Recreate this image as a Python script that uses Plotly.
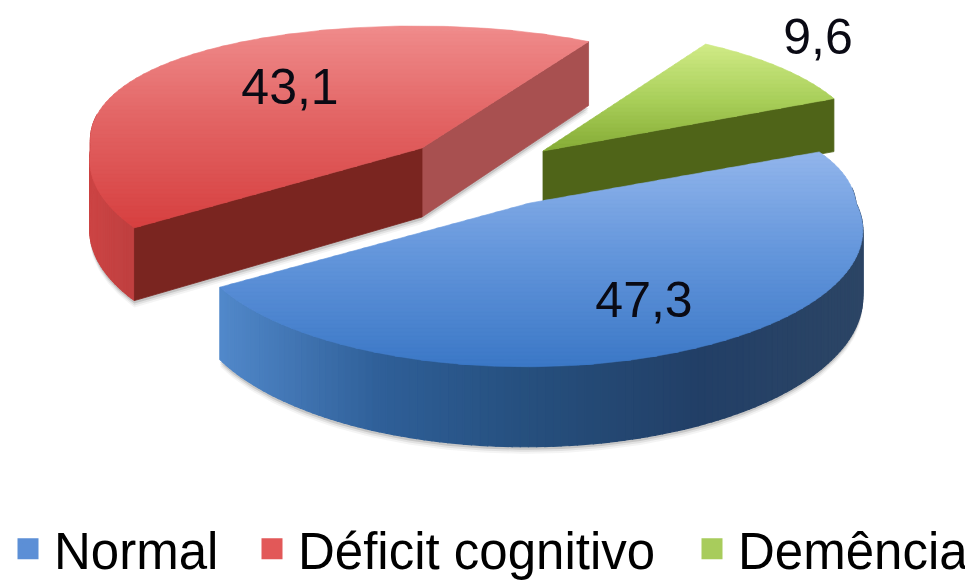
import math
import plotly.graph_objects as go

# ---- data ----
categories = ["Normal", "Déficit cognitivo", "Demência"]
values = [47.3, 43.1, 9.6]

# ---- appearance of each 3-D slice (geometry params, not data) ----
START_DEG = 25.0
PAGE_INSET = 8  # the page body has an 8px margin
GEOM = [
    dict(cx=526, cy=203, A=330, B=131, k=0.20, s=0.15, d=64, apex=(530, 203), vis=0.12),
    dict(cx=416, cy=148, A=325, B=133, k=0.09, s=0.15, d=69, apex=(422, 148), vis=0.25),
    dict(cx=543, cy=151, A=321, B=124, k=0.00, s=0.00, d=53, apex=(543, 151), vis=0.30),
]
TOP_STOPS = [
    [(150, "#93B6EC"), (250, "#6597DC"), (370, "#3A77C6")],
    [(25, "#F08C8C"), (120, "#E26464"), (230, "#D63F3F")],
    [(45, "#D0EB86"), (100, "#A9CF5A"), (150, "#86AC36")],
]
ARC_STOPS = [
    [(220, "#5188CA"), (380, "#2F5F98"), (520, "#26507F"), (700, "#223F66"), (863, "#2C4565")],
    [(90, "#CC4444"), (128, "#C04040"), (600, "#A85050")],
    [(540, "#4F6418"), (840, "#4F6418")],
]
WALL_FRONT = ["#2A4463", "#7A2520", "#4F6418"]
WALL_SIDE = ["#2A4463", "#A85050", "#4F6418"]
SWATCH = ["#5C8FD6", "#E25858", "#A8CC5C"]
LABEL_POS = [(644, 304), (290, 91), (818, 41)]
LEGEND_X = [-6 / 973, 238 / 973, 678 / 973]
DRAW_ORDER = [1, 2, 0]


def hex2rgb(h):
    return tuple(int(h[i:i + 2], 16) for i in (1, 3, 5))


def ramp(stops, v):
    if v <= stops[0][0]:
        return stops[0][1]
    for (a, ca), (b, cb) in zip(stops, stops[1:]):
        if v <= b:
            t = (v - a) / (b - a)
            ra, rb = hex2rgb(ca), hex2rgb(cb)
            return "#%02X%02X%02X" % tuple(round(p + (q - p) * t) for p, q in zip(ra, rb))
    return stops[-1][1]


def proj(deg, g):
    t = math.radians(deg)
    x, y = math.cos(t), math.sin(t)
    w = 1 + g["k"] * y
    stretch = 1 + g["s"] * max(y, 0)
    return (g["cx"] + g["A"] * x * stretch / w, g["cy"] - g["B"] * y / w, g["d"] / w)


def clip_band(poly, lo, hi):
    def clip(points, inside, limit):
        out = []
        for i, p in enumerate(points):
            q = points[(i + 1) % len(points)]
            ip, iq = inside(p[1]), inside(q[1])
            if ip:
                out.append(p)
            if ip != iq:
                t = (limit - p[1]) / (q[1] - p[1])
                out.append((p[0] + (q[0] - p[0]) * t, limit))
        return out
    res = clip(poly, lambda y: y >= lo, lo)
    if res:
        res = clip(res, lambda y: y <= hi, hi)
    return res


fig = go.Figure()


def poly_trace(pts, color, w=0.8):
    xs = [p[0] for p in pts] + [pts[0][0]]
    ys = [p[1] for p in pts] + [pts[0][1]]
    fig.add_trace(go.Scatter(x=xs, y=ys, mode="lines", fill="toself", fillcolor=color,
                             line=dict(color=color, width=w), hoverinfo="skip", showlegend=False))


# angle span of each slice, clockwise, from the values
total = sum(values)
spans = []
cur = START_DEG
for v in values:
    next_angle = cur - v / total * 360
    spans.append((cur, next_angle))
    cur = next_angle

for idx in DRAW_ORDER:
    g = GEOM[idx]
    a0, a1 = spans[idx]
    n = 150
    angs = [a0 + (a1 - a0) * i / n for i in range(n + 1)]
    ring = [proj(a, g) for a in angs]
    ax, ay = g["apex"]
    # soft shadow
    if idx != 2:
        for off, col in ((7, "rgba(120,120,120,0.08)"), (5, "rgba(120,120,120,0.14)"), (3, "rgba(110,110,110,0.24)")):
            pts = [(ax, ay + g["d"] + off)] + [(x, y + d + off) for x, y, d in ring
                                               if math.sin(math.radians(0)) == 0]
            fig.add_trace(go.Scatter(x=[p[0] for p in pts], y=[p[1] for p in pts], mode="lines",
                                     fill="toself", fillcolor=col, line=dict(width=0),
                                     hoverinfo="skip", showlegend=False))
    # curved outer wall
    for i in range(n):
        if math.sin(math.radians(angs[i])) > g["vis"]:
            continue
        x0, y0, d0 = ring[i]
        x1, y1, d1 = ring[i + 1]
        poly_trace([(x0, y0), (x1, y1), (x1, y1 + d1), (x0, y0 + d0)], ramp(ARC_STOPS[idx], (x0 + x1) / 2), 1.2)
    # flat walls from the apex
    x0, y0, d0 = ring[0]
    x1, y1, d1 = ring[-1]
    d = g["d"]
    if idx == 1:
        poly_trace([(ax, ay), (x1, y1), (x1, y1 + d1), (ax, ay + d)], WALL_SIDE[idx])
        poly_trace([(ax, ay), (x0, y0), (x0, y0 + d0), (ax, ay + d)], WALL_FRONT[idx])
    elif idx == 2:
        poly_trace([(ax, ay), (x1, y1), (x1, y1 + d1), (ax, ay + d)], WALL_FRONT[idx])
    # top surface with vertical gradient
    top = [(ax, ay)] + [(x, y) for x, y, _ in ring]
    ymin = min(p[1] for p in top)
    ymax = max(p[1] for p in top)
    y = ymin
    while y < ymax:
        band = clip_band(top, y, min(y + 4.6, ymax))
        if len(band) >= 3:
            poly_trace(band, ramp(TOP_STOPS[idx], y + 2), 0.6)
        y += 4

# value labels
fig.add_trace(go.Scatter(
    x=[p[0] for p in LABEL_POS], y=[p[1] for p in LABEL_POS], mode="text",
    text=[f"{v:.1f}".replace(".", ",") for v in values],
    textfont=dict(family="Liberation Sans", size=50, color="#0A0A14"),
    textposition="middle center", hoverinfo="skip", showlegend=False))

# legend entries, each in its own legend so each sits where the reference has it
legend_layouts = {}
for i, (name, col) in enumerate(zip(categories, SWATCH)):
    key = "legend" if i == 0 else f"legend{i + 1}"
    fig.add_trace(go.Scatter(x=[None], y=[None], mode="markers", name=name, legend=key,
                             marker=dict(symbol="square", size=16, color=col,
                                         line=dict(color=col, width=5))))
    legend_layouts[key] = dict(orientation="h", x=LEGEND_X[i], y=0, xanchor="left", yanchor="bottom",
                               font=dict(family="Liberation Sans", size=51, color="black"),
                               bgcolor="rgba(0,0,0,0)", itemwidth=42)

fig.update_layout(
    width=973, height=581, margin=dict(l=0, r=0, t=0, b=0, autoexpand=False),
    paper_bgcolor="white", plot_bgcolor="white",
    xaxis=dict(range=[PAGE_INSET, 973 + PAGE_INSET], visible=False, fixedrange=True),
    yaxis=dict(range=[581 + PAGE_INSET, PAGE_INSET], visible=False, fixedrange=True),
    **legend_layouts,
)
fig.write_html("out.html")
